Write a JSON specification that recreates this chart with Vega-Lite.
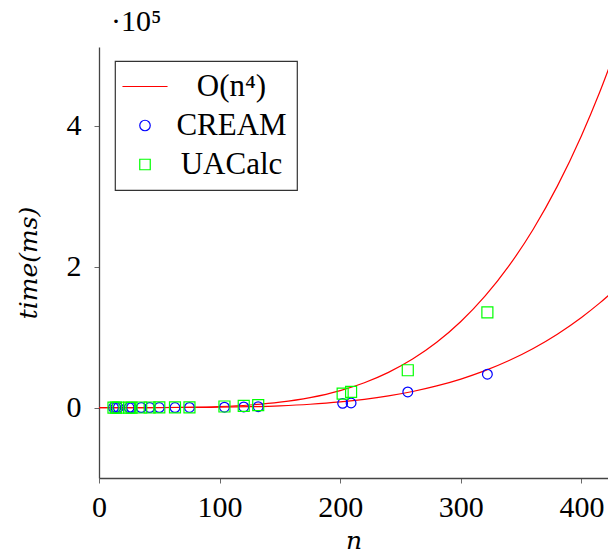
{
  "$schema": "https://vega.github.io/schema/vega-lite/v6.json",
  "width": 509,
  "height": 431,
  "autosize": {"type": "none"},
  "padding": {"left": 99, "top": 47, "right": 0, "bottom": 76},
  "background": "white",
  "title": {
    "text": "·10⁵",
    "anchor": "start",
    "frame": "group",
    "orient": "top",
    "dx": 12,
    "dy": 28,
    "offset": 14,
    "baseline": "alphabetic",
    "font": "Liberation Serif",
    "fontSize": 30,
    "fontWeight": "normal",
    "color": "black"
  },
  "config": {
    "view": {"stroke": null},
    "font": "Liberation Serif",
    "axis": {
      "grid": false,
      "domainColor": "#444444",
      "domainWidth": 1.3,
      "tickColor": "#444444",
      "tickWidth": 0.8,
      "tickSize": 5,
      "labelFont": "Liberation Serif",
      "labelFontSize": 30,
      "labelColor": "black",
      "titleFont": "DejaVu Serif",
      "titleFontSize": 25,
      "titleFontWeight": "normal",
      "titleFontStyle": "italic",
      "titleColor": "black"
    },
    "legend": {
      "orient": "none",
      "legendX": 16,
      "legendY": 14,
      "fillColor": "white",
      "strokeColor": "#333333",
      "strokeWidth": 1.2,
      "padding": 10,
      "cornerRadius": 0,
      "symbolOffset": 4.5,
      "symbolSize": 110,
      "symbolStrokeWidth": 1.2,
      "symbolFillColor": "transparent",
      "labelAlign": "center",
      "labelOffset": 71,
      "labelFont": "Liberation Serif",
      "labelFontSize": 31,
      "labelColor": "black",
      "labelLimit": 400,
      "rowPadding": 7,
      "title": null
    }
  },
  "datasets": {
    "curves": [
      {"n": 0, "time": 0, "curve": "a", "series": "O(n⁴)"},
      {"n": 25, "time": 6, "curve": "a", "series": "O(n⁴)"},
      {"n": 50, "time": 94, "curve": "a", "series": "O(n⁴)"},
      {"n": 75, "time": 477, "curve": "a", "series": "O(n⁴)"},
      {"n": 100, "time": 1508, "curve": "a", "series": "O(n⁴)"},
      {"n": 125, "time": 3682, "curve": "a", "series": "O(n⁴)"},
      {"n": 150, "time": 7634, "curve": "a", "series": "O(n⁴)"},
      {"n": 175, "time": 14143, "curve": "a", "series": "O(n⁴)"},
      {"n": 200, "time": 24128, "curve": "a", "series": "O(n⁴)"},
      {"n": 220, "time": 35326, "curve": "a", "series": "O(n⁴)"},
      {"n": 240, "time": 50032, "curve": "a", "series": "O(n⁴)"},
      {"n": 260, "time": 68913, "curve": "a", "series": "O(n⁴)"},
      {"n": 280, "time": 92691, "curve": "a", "series": "O(n⁴)"},
      {"n": 300, "time": 122148, "curve": "a", "series": "O(n⁴)"},
      {"n": 320, "time": 158126, "curve": "a", "series": "O(n⁴)"},
      {"n": 340, "time": 201520, "curve": "a", "series": "O(n⁴)"},
      {"n": 360, "time": 253287, "curve": "a", "series": "O(n⁴)"},
      {"n": 380, "time": 314439, "curve": "a", "series": "O(n⁴)"},
      {"n": 400, "time": 386048, "curve": "a", "series": "O(n⁴)"},
      {"n": 415, "time": 447292, "curve": "a", "series": "O(n⁴)"},
      {"n": 430, "time": 515555, "curve": "a", "series": "O(n⁴)"},
      {"n": 0, "time": 0, "curve": "b", "series": "O(n⁴)"},
      {"n": 25, "time": 2, "curve": "b", "series": "O(n⁴)"},
      {"n": 50, "time": 31, "curve": "b", "series": "O(n⁴)"},
      {"n": 75, "time": 158, "curve": "b", "series": "O(n⁴)"},
      {"n": 100, "time": 500, "curve": "b", "series": "O(n⁴)"},
      {"n": 125, "time": 1221, "curve": "b", "series": "O(n⁴)"},
      {"n": 150, "time": 2531, "curve": "b", "series": "O(n⁴)"},
      {"n": 175, "time": 4689, "curve": "b", "series": "O(n⁴)"},
      {"n": 200, "time": 8000, "curve": "b", "series": "O(n⁴)"},
      {"n": 220, "time": 11713, "curve": "b", "series": "O(n⁴)"},
      {"n": 240, "time": 16589, "curve": "b", "series": "O(n⁴)"},
      {"n": 260, "time": 22849, "curve": "b", "series": "O(n⁴)"},
      {"n": 280, "time": 30733, "curve": "b", "series": "O(n⁴)"},
      {"n": 300, "time": 40500, "curve": "b", "series": "O(n⁴)"},
      {"n": 320, "time": 52429, "curve": "b", "series": "O(n⁴)"},
      {"n": 340, "time": 66817, "curve": "b", "series": "O(n⁴)"},
      {"n": 360, "time": 83981, "curve": "b", "series": "O(n⁴)"},
      {"n": 380, "time": 104257, "curve": "b", "series": "O(n⁴)"},
      {"n": 400, "time": 128000, "curve": "b", "series": "O(n⁴)"},
      {"n": 415, "time": 148307, "curve": "b", "series": "O(n⁴)"},
      {"n": 430, "time": 170940, "curve": "b", "series": "O(n⁴)"}
    ],
    "cream": [
      {"n": 12, "time": 5, "series": "CREAM"}, {"n": 14, "time": 5, "series": "CREAM"}, {"n": 16, "time": 8, "series": "CREAM"},
      {"n": 25, "time": 10, "series": "CREAM"}, {"n": 27, "time": 12, "series": "CREAM"}, {"n": 35, "time": 20, "series": "CREAM"},
      {"n": 42, "time": 30, "series": "CREAM"}, {"n": 50, "time": 40, "series": "CREAM"}, {"n": 63, "time": 80, "series": "CREAM"},
      {"n": 75, "time": 150, "series": "CREAM"}, {"n": 104, "time": 600, "series": "CREAM"}, {"n": 120, "time": 900, "series": "CREAM"},
      {"n": 132, "time": 1200, "series": "CREAM"}, {"n": 202, "time": 6000, "series": "CREAM"}, {"n": 209, "time": 6500, "series": "CREAM"},
      {"n": 256, "time": 22200, "series": "CREAM"}, {"n": 322, "time": 47400, "series": "CREAM"}
    ],
    "uacalc": [
      {"n": 12, "time": 20, "series": "UACalc"}, {"n": 14, "time": 25, "series": "UACalc"}, {"n": 16, "time": 30, "series": "UACalc"},
      {"n": 25, "time": 40, "series": "UACalc"}, {"n": 27, "time": 50, "series": "UACalc"}, {"n": 35, "time": 80, "series": "UACalc"},
      {"n": 42, "time": 100, "series": "UACalc"}, {"n": 50, "time": 150, "series": "UACalc"}, {"n": 63, "time": 250, "series": "UACalc"},
      {"n": 75, "time": 400, "series": "UACalc"}, {"n": 104, "time": 1500, "series": "UACalc"}, {"n": 120, "time": 2500, "series": "UACalc"},
      {"n": 132, "time": 3500, "series": "UACalc"}, {"n": 202, "time": 19900, "series": "UACalc"}, {"n": 209, "time": 22200, "series": "UACalc"},
      {"n": 256, "time": 53000, "series": "UACalc"}, {"n": 322, "time": 135100, "series": "UACalc"}
    ]
  },
  "encoding": {
    "x": {
      "field": "n",
      "type": "quantitative",
      "scale": {"domain": [0, 422], "nice": false, "zero": false},
      "axis": {"values": [0, 100, 200, 300, 400], "labelPadding": 9, "title": "n", "titlePadding": 6, "labelFlush": false}
    },
    "y": {
      "field": "time",
      "type": "quantitative",
      "scale": {"domain": [-100000, 512000], "nice": false, "zero": false},
      "axis": {"values": [0, 200000, 400000], "labelExpr": "datum.value / 100000", "labelPadding": 13, "title": "time(ms)", "titlePadding": 25, "labelFlush": false}
    },
    "color": {
      "field": "series",
      "type": "nominal",
      "scale": {"domain": ["O(n⁴)", "CREAM", "UACalc"], "range": ["#ff0000", "#0000ff", "#00ff00"]},
      "legend": {"title": null}
    }
  },
  "layer": [
    {
      "data": {"name": "curves"},
      "mark": {"type": "line", "interpolate": "monotone", "strokeWidth": 1.2, "clip": true},
      "encoding": {
        "detail": {"field": "curve"}
      }
    },
    {
      "data": {"name": "cream"},
      "mark": {"type": "point", "filled": false, "size": 95, "strokeWidth": 1.2, "opacity": 1},
      "encoding": {
        "shape": {
          "field": "series",
          "type": "nominal",
          "scale": {"domain": ["O(n⁴)", "CREAM", "UACalc"], "range": ["M-4.3,0H4.3", "circle", "square"]},
          "legend": {"title": null}
        }
      }
    },
    {
      "data": {"name": "uacalc"},
      "mark": {"type": "point", "filled": false, "size": 121, "strokeWidth": 1.2, "opacity": 1},
      "encoding": {
        "shape": {
          "field": "series",
          "type": "nominal",
          "scale": {"domain": ["O(n⁴)", "CREAM", "UACalc"], "range": ["M-4.3,0H4.3", "circle", "square"]},
          "legend": {"title": null}
        }
      }
    }
  ]
}
